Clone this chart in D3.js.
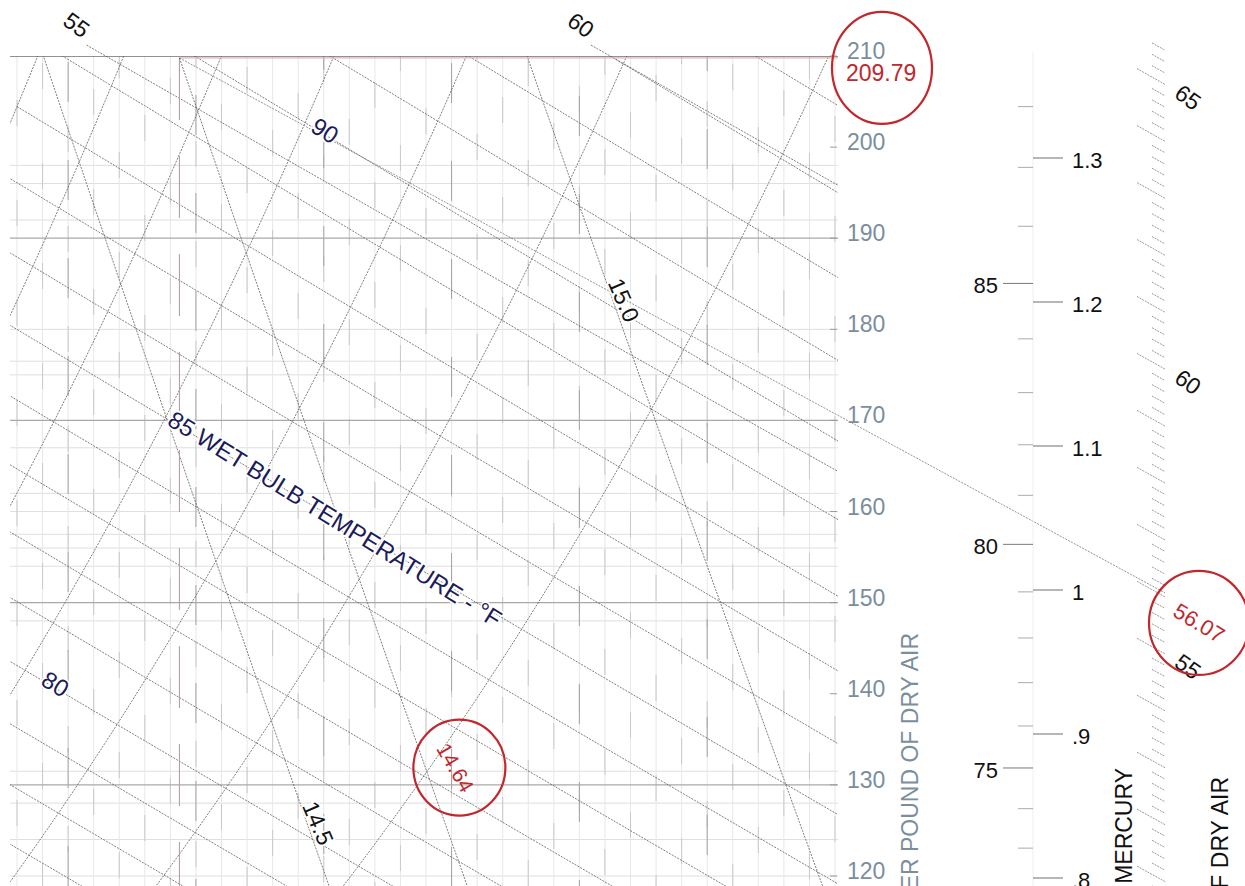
<!DOCTYPE html>
<html>
<head>
<meta charset="utf-8">
<script src="https://cdn.jsdelivr.net/npm/d3@7"></script>
<style>
  html, body { margin: 0; padding: 0; background: #ffffff; }
  svg { display: block; font-family: "Liberation Sans", Arial, Helvetica, sans-serif; }
</style>
</head>
<body>
<svg id="chart" width="1245" height="886"></svg>
<script>
// ---------------- chart values ----------------
// humidity ratio axis (grains of moisture per pound of dry air)
const grainTicks = [120, 130, 140, 150, 160, 170, 180, 190, 200, 210];
const grainMajorGrid = [210, 190, 170, 150, 130];
const grainMinorGrid = [198, 196, 192, 180, 176.5, 175, 167, 162, 160, 157.5, 156, 154, 148, 131.5, 128, 124, 120];
// dry-bulb temperature grid (°F)
const dryBulbGrid = [88, 89, 90, 91, 92, 93, 94, 95, 96, 97, 98, 99, 100, 101, 102, 103, 104,
                     105, 106, 107, 108, 109, 110, 111, 112, 113, 114, 115, 116, 117, 118, 119, 120];
const dryBulbMajor = [90, 95, 100, 105, 110, 115];
// wet-bulb lines (°F)
const wetBulbLines = [74, 75, 76, 77, 78, 79, 80, 81, 82, 83, 84, 85, 86, 87, 88, 89, 90, 91, 92, 93, 94, 95, 96];
const wetBulbLabels = [
  { wb: 90, at: 100.05, text: "90", anchor: "middle" },
  { wb: 85, at: 94.0, text: "85 WET BULB TEMPERATURE - °F", anchor: "start" },
  { wb: 80, at: 89.5, text: "80", anchor: "middle" }
];
// relative humidity curves (%)
const rhCurves = [40, 50, 60, 70, 80, 90, 100];
// specific volume lines (cu ft per lb dry air)
const volumeLines = [14.5, 15.0];
const volumeLabels = [
  { v: 15.0, grains: 183.2, text: "15.0" },
  { v: 14.5, grains: 125.8, text: "14.5" }
];
// enthalpy lines and diagonal enthalpy scale (BTU per lb dry air)
const enthalpyLines = [55, 60];
const enthalpyScaleLabels = [55, 60, 65];
const enthalpyScaleRange = [50.8, 65.6];
// vapour pressure scale (inches of mercury) and dew-point ticks (°F)
const vaporPressureTicks = [0.8, 0.9, 1.0, 1.1, 1.2, 1.3];
const vaporPressureLabels = [".8", ".9", "1", "1.1", "1.2", "1.3"];
const dewPointTicks = [73, 74, 75, 76, 77, 78, 79, 80, 81, 82, 83, 84, 85, 86, 87, 88];
const dewPointLabels = [75, 80, 85];
// state point read on the chart
const statePoint = { grains: 209.79, volume: 14.64, enthalpy: 56.07 };

// ---------------- psychrometric relations (IP units, sea level) ----------------
const P_ATM = 14.696;          // psia
const ENHANCE = 1.0045;
function pSat(tF) {            // saturation pressure over water, psia
  const T = tF + 459.67;
  return Math.exp(-1.0440397e4 / T - 1.1294650e1 - 2.7022355e-2 * T + 1.2890360e-5 * T * T
                  - 2.4780681e-9 * T * T * T + 6.5459673 * Math.log(T));
}
const wFromPw = p => 0.621945 * p / (P_ATM - p);
const wSat = t => wFromPw(ENHANCE * pSat(t));
const wFromRH = (t, rh) => wFromPw(rh * ENHANCE * pSat(t));
const wFromWB = (t, twb) => ((1093 - 0.556 * twb) * wSat(twb) - 0.24 * (t - twb)) / (1093 + 0.444 * t - twb);
const wFromH = (t, h) => (h - 0.24 * t) / (1061 + 0.444 * t);
const tFromVW = (v, w) => v * P_ATM / (0.370486 * (1 + 1.607858 * w)) - 459.67;

// ---------------- scales ----------------
const x = d3.scaleLinear().domain([88, 120]).range([17, 835]);      // dry bulb °F
const y = d3.scaleLinear().domain([210, 120]).range([56, 876]);     // grains
const vp = d3.scaleLinear().domain([0.8, 1.3]).range([878, 158]);   // inches Hg
const pt = (t, w) => [x(t), y(w * 7000)];
const lineGen = d3.line();

const svg = d3.select("#chart");
const defs = svg.append("defs");
defs.append("clipPath").attr("id", "plotClip").append("rect")
  .attr("x", 10).attr("y", 56).attr("width", 828).attr("height", 840);
defs.append("clipPath").attr("id", "plotClipTop").append("rect")
  .attr("x", 10).attr("y", 40).attr("width", 828).attr("height", 860);

const LINE_COLOR = "#5c5c5c";
const lineStyle = sel => sel.attr("fill", "none").attr("stroke", LINE_COLOR)
  .attr("stroke-width", 0.8).attr("stroke-dasharray", "2,1.2");

// ---------------- grid ----------------
const grid = svg.append("g").attr("clip-path", "url(#plotClip)");
grid.selectAll("line.minorH").data(grainMinorGrid).join("line")
  .attr("x1", 10).attr("x2", 838).attr("y1", d => y(d)).attr("y2", d => y(d))
  .attr("stroke", "#dedede").attr("stroke-width", 1);
grid.selectAll("line.vBase").data(dryBulbGrid).join("line")
  .attr("x1", d => x(d)).attr("x2", d => x(d)).attr("y1", 56).attr("y2", 886)
  .attr("stroke", "#e7e7e7").attr("stroke-width", 1);
grid.selectAll("line.vDash").data(dryBulbGrid).join("line")
  .attr("x1", d => x(d)).attr("x2", d => x(d)).attr("y1", 56).attr("y2", 886)
  .attr("stroke", "#c9c9c9").attr("stroke-width", 1)
  .attr("stroke-dasharray", "26,74").attr("stroke-dashoffset", d => (d * 37) % 100);
grid.selectAll("line.vMajor").data(dryBulbMajor).join("line")
  .attr("x1", d => x(d)).attr("x2", d => x(d)).attr("y1", 56).attr("y2", 886)
  .attr("stroke", "#a3a3a3").attr("stroke-width", 1)
  .attr("stroke-dasharray", "40,58").attr("stroke-dashoffset", d => (d * 13) % 98);
grid.selectAll("line.majorH").data(grainMajorGrid).join("line")
  .attr("x1", 10).attr("x2", 838).attr("y1", d => y(d)).attr("y2", d => y(d))
  .attr("stroke", d => d === 210 ? "#6e6e6e" : "#a9a9a9").attr("stroke-width", d => d === 210 ? 1.4 : 1.2);

// ---------------- psychrometric lines ----------------
const lines = svg.append("g").attr("clip-path", "url(#plotClip)");

rhCurves.forEach(rh => {
  const pts = d3.range(84, 121.01, 0.25).map(t => pt(t, wFromRH(t, rh / 100)));
  lines.append("path").attr("d", lineGen(pts)).call(lineStyle);
});

wetBulbLines.forEach(wb => {
  const pts = d3.range(wb, 121.01, 0.25).map(t => pt(t, wFromWB(t, wb)));
  lines.append("path").attr("d", lineGen(pts)).call(lineStyle);
});

volumeLines.forEach(v => {
  const pts = d3.range(110, 216, 1).map(g => g / 7000)
    .map(w => [tFromVW(v, w), w]).filter(d => d[1] <= wSat(d[0]) + 1e-6)
    .map(d => pt(d[0], d[1]));
  lines.append("path").attr("d", lineGen(pts)).call(lineStyle);
});

const linesTop = svg.append("g").attr("clip-path", "url(#plotClipTop)");
const ENTH_TOP_GRAINS = 211.2;
const enthStartT = h => { const w = ENTH_TOP_GRAINS / 7000; return (h - w * 1061) / (0.24 + 0.444 * w); };
enthalpyLines.forEach(h => {
  const pts = d3.range(enthStartT(h), 121.01, 0.25).map(t => pt(t, wFromH(t, h)));
  linesTop.append("path").attr("d", lineGen(pts)).call(lineStyle);
});

// ---------------- state point construction ----------------
const stateW = statePoint.grains / 7000;
const stateT = tFromVW(statePoint.volume, stateW);
const [sx, sy] = pt(stateT, stateW);
const constr = svg.append("g").attr("clip-path", "url(#plotClip)");
constr.append("line").attr("x1", sx).attr("x2", 838).attr("y1", sy).attr("y2", sy)
  .attr("stroke", "#deb5b9").attr("stroke-width", 1.1);
constr.append("line").attr("x1", sx).attr("x2", sx).attr("y1", sy).attr("y2", 886)
  .attr("stroke", "#b3a2a4").attr("stroke-width", 1.1).attr("stroke-dasharray", "62,36");
const volPts = d3.range(statePoint.grains, 110, -1).map(g => g / 7000)
  .map(w => pt(tFromVW(statePoint.volume, w), w));
constr.append("path").attr("d", lineGen(volPts)).call(lineStyle);

// enthalpy scale sits on the extension of the enthalpy lines at x = 1165
const scaleT = x.invert(1165), majorT = x.invert(1137), minorT = x.invert(1152), labelT = x.invert(1188);
const enthScalePt = h => pt(scaleT, wFromH(scaleT, h));
const enthEnd = enthScalePt(statePoint.enthalpy);
svg.append("line").attr("x1", sx).attr("y1", sy).attr("x2", enthEnd[0]).attr("y2", enthEnd[1])
  .call(lineStyle).attr("stroke", "#777777");

// ---------------- in-chart labels ----------------
const halo = sel => sel.attr("stroke", "#ffffff").attr("stroke-width", 3.5)
  .attr("paint-order", "stroke").attr("stroke-linejoin", "round");
const angleOf = (a, b) => Math.atan2(b[1] - a[1], b[0] - a[0]) * 180 / Math.PI;

wetBulbLabels.forEach(d => {
  const p = pt(d.at, wFromWB(d.at, d.wb));
  const ang = angleOf(p, pt(d.at + 0.5, wFromWB(d.at + 0.5, d.wb)));
  svg.append("text").text(d.text)
    .attr("transform", `translate(${p[0]},${p[1] - 4}) rotate(${ang + 1})`)
    .attr("text-anchor", d.anchor).attr("dy", "0.35em")
    .attr("font-size", 24).attr("fill", "#1b1b5c").call(halo);
});

volumeLabels.forEach(d => {
  const w = d.grains / 7000, w2 = (d.grains - 1) / 7000;
  const p = pt(tFromVW(d.v, w), w), p2 = pt(tFromVW(d.v, w2), w2);
  const ang = angleOf(p, p2) - 4;
  svg.append("text").text(d.text)
    .attr("transform", `translate(${p[0] + 11},${p[1]}) rotate(${ang})`)
    .attr("text-anchor", "middle").attr("dy", "0.35em")
    .attr("font-size", 23).attr("fill", "#111").call(halo);
});

enthalpyLines.forEach(h => {
  const t0 = enthStartT(h);
  const p = pt(t0, wFromH(t0, h)), p2 = pt(t0 + 0.5, wFromH(t0 + 0.5, h));
  svg.append("text").text(h)
    .attr("transform", `translate(${p[0] - 10},${p[1] - 20}) rotate(${angleOf(p, p2) + 6})`)
    .attr("text-anchor", "middle").attr("dy", "0.35em")
    .attr("font-size", 23).attr("fill", "#111");
});

// ---------------- humidity ratio axis ----------------
const gAxis = svg.append("g");
gAxis.selectAll("line").data(grainTicks).join("line")
  .attr("x1", 830).attr("x2", 837).attr("y1", d => y(d)).attr("y2", d => y(d))
  .attr("stroke", "#9a9a9a");
gAxis.selectAll("text").data(grainTicks).join("text")
  .attr("x", 847).attr("y", d => y(d) - 5).attr("dy", "0.35em")
  .attr("font-size", 23).attr("fill", "#7b8e9e").text(d => d);
svg.append("text").text("GRAINS OF MOISTURE PER POUND OF DRY AIR")
  .attr("transform", "translate(918,633) rotate(-90)")
  .attr("text-anchor", "end").attr("font-size", 23).attr("fill", "#7b8e9e");
svg.append("text").text(d3.format(".2f")(statePoint.grains))
  .attr("x", 846).attr("y", y(statePoint.grains) + 15).attr("dy", "0.35em")
  .attr("font-size", 23).attr("fill", "#c1272d");

// ---------------- vapour pressure / dew point scale ----------------
const gVp = svg.append("g");
gVp.append("line").attr("x1", 1033).attr("x2", 1033).attr("y1", 52).attr("y2", 886)
  .attr("stroke", "#efefef").attr("stroke-width", 1);
gVp.selectAll("line.vp").data(vaporPressureTicks).join("line")
  .attr("x1", 1033).attr("x2", 1063).attr("y1", d => vp(d)).attr("y2", d => vp(d))
  .attr("stroke", "#6f6f6f").attr("stroke-width", 1);
gVp.selectAll("text.vp").data(vaporPressureTicks).join("text")
  .attr("x", 1072).attr("y", d => vp(d) + 2).attr("dy", "0.35em")
  .attr("font-size", 22).attr("fill", "#111").text((d, i) => vaporPressureLabels[i]);
const dpY = t => y(wSat(t) * 7000);
gVp.selectAll("line.dp").data(dewPointTicks).join("line")
  .attr("x1", d => dewPointLabels.includes(d) ? 1003 : 1018).attr("x2", 1033)
  .attr("y1", dpY).attr("y2", dpY)
  .attr("stroke", d => dewPointLabels.includes(d) ? "#7a7a7a" : "#ababab").attr("stroke-width", 1);
gVp.selectAll("text.dp").data(dewPointLabels).join("text")
  .attr("x", 998).attr("y", d => dpY(d) + 2).attr("dy", "0.35em").attr("text-anchor", "end")
  .attr("font-size", 22).attr("fill", "#111").text(d => d);
svg.append("text").text("VAPOR PRESSURE - INCHES OF MERCURY")
  .attr("transform", "translate(1132,768) rotate(-90)")
  .attr("text-anchor", "end").attr("font-size", 23).attr("fill", "#111");

// ---------------- diagonal enthalpy scale ----------------
const gH = svg.append("g");
const hTicks = d3.range(Math.round(enthalpyScaleRange[0] * 5), Math.round(enthalpyScaleRange[1] * 5) + 1).map(i => i / 5);
hTicks.forEach(h => {
  const major = Math.abs(h - Math.round(h)) < 1e-6;
  const t0 = major ? majorT : minorT;
  const p0 = pt(t0, wFromH(t0, h)), p1 = enthScalePt(h);
  gH.append("line").attr("x1", p0[0]).attr("y1", p0[1]).attr("x2", p1[0]).attr("y2", p1[1])
    .attr("stroke", "#9b9b9b").attr("stroke-width", 1).attr("stroke-dasharray", "2,1");
});
enthalpyScaleLabels.forEach(h => {
  const p = pt(labelT, wFromH(labelT, h)), p2 = pt(labelT + 0.5, wFromH(labelT + 0.5, h));
  gH.append("text").text(h)
    .attr("transform", `translate(${p[0]},${p[1]}) rotate(${angleOf(p, p2) + 6})`)
    .attr("text-anchor", "middle").attr("dy", "0.35em")
    .attr("font-size", 23).attr("fill", "#111");
});
svg.append("text").text("ENTHALPY - BTU PER POUND OF DRY AIR")
  .attr("transform", "translate(1228,777) rotate(-90)")
  .attr("text-anchor", "end").attr("font-size", 23).attr("fill", "#111");

// ---------------- read-out annotations ----------------
const RED = "#c1272d";
// humidity ratio read-out
svg.append("ellipse").attr("cx", 882).attr("cy", y(statePoint.grains) + 10).attr("rx", 50).attr("ry", 56)
  .attr("fill", "none").attr("stroke", RED).attr("stroke-width", 2.2);
// specific volume read-out
const volW = 131.9 / 7000;
const volP = pt(tFromVW(statePoint.volume, volW), volW);
svg.append("text").text(d3.format(".2f")(statePoint.volume))
  .attr("transform", `translate(${volP[0] + 30},${volP[1]}) rotate(60)`)
  .attr("text-anchor", "middle").attr("dy", "0.35em").attr("font-size", 21).attr("fill", RED);
svg.append("ellipse").attr("cx", volP[0] + 34).attr("cy", volP[1]).attr("rx", 46).attr("ry", 48)
  .attr("fill", "none").attr("stroke", RED).attr("stroke-width", 2.2);
// enthalpy read-out
svg.append("text").text(d3.format(".2f")(statePoint.enthalpy))
  .attr("transform", `translate(${enthEnd[0] + 34},${enthEnd[1] + 30}) rotate(31)`)
  .attr("text-anchor", "middle").attr("dy", "0.35em").attr("font-size", 22).attr("fill", RED);
svg.append("ellipse").attr("cx", enthEnd[0] + 34).attr("cy", enthEnd[1] + 30).attr("rx", 50).attr("ry", 52)
  .attr("fill", "none").attr("stroke", RED).attr("stroke-width", 2.2);
</script>
</body>
</html>
